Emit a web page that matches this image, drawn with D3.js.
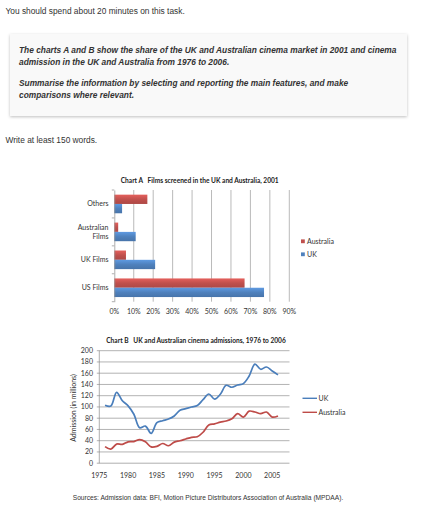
<!DOCTYPE html>
<html><head><meta charset="utf-8">
<script src="https://cdn.jsdelivr.net/npm/d3@7"></script>
<style>
html,body{margin:0;padding:0;background:#fff;}
svg{display:block;}
</style></head>
<body>
<svg id="c" width="421" height="512"></svg>
<script>
// ---------- Data ----------
const filmCategories = ["Others", "Australian Films", "UK Films", "US Films"];
const seriesA = ["Australia", "UK"];
const australiaShare = [17, 2, 6, 67];
const ukShare = [4, 11, 21, 77];
const shareTicks = [0, 10, 20, 30, 40, 50, 60, 70, 80, 90];

const years = [1976,1977,1978,1979,1980,1981,1982,1983,1984,1985,1986,1987,1988,1989,1990,1991,1992,1993,1994,1995,1996,1997,1998,1999,2000,2001,2002,2003,2004,2005,2006];
const ukAdmissions = [103,101.5,126,111,102,87,63,66,53,72,75.5,78.5,84,94,97,100,102.5,113,123,114,122.5,138.5,135,139,141.5,155,176,167,171,164,157];
const ausAdmissions = [29.5,25,34,33.5,38,38.5,42,38,29,30,35,31,37.5,40,43,46,47,55,68,70,73,75,79,88,82,92.5,91,88,91,82,84];
const admissionTicks = [0,20,40,60,80,100,120,140,160,180,200];
const yearTicks = [1975,1980,1985,1990,1995,2000,2005];

const colAus = "#c0504d", colUK = "#4f81bd";
const svg = d3.select("#c");
const sans = "'Liberation Sans', Arial, Helvetica, sans-serif";
const cf = "Lato, 'Open Sans', sans-serif";
const hs = 8.35;   // header font size
const ts = 7;      // chart text size

// ---------- Header ----------
const defs = svg.append("defs");
const f = defs.append("filter").attr("id","sh").attr("x","-5%").attr("y","-10%").attr("width","110%").attr("height","130%");
f.append("feDropShadow").attr("dx",0).attr("dy",1).attr("stdDeviation",1.5).attr("flood-color","#000").attr("flood-opacity",0.25);

svg.append("text").attr("x",5.5).attr("y",14).attr("font-family",sans).attr("font-size",hs).attr("fill","#333")
  .text("You should spend about 20 minutes on this task.");
svg.append("rect").attr("x",10).attr("y",34).attr("width",397).attr("height",82).attr("fill","#f9f9f9").attr("filter","url(#sh)");
const boxLines = [
  ["The charts A and B show the share of the UK and Australian cinema market in 2001 and cinema", 53],
  ["admission in the UK and Australia from 1976 to 2006.", 65.3],
  ["Summarise the information by selecting and reporting the main features, and make", 85.7],
  ["comparisons where relevant.", 98]
];
svg.selectAll("text.box").data(boxLines).join("text").attr("class","box")
  .attr("x",19).attr("y",d=>d[1]).attr("font-family",sans).attr("font-size",hs)
  .attr("font-weight","bold").attr("font-style","italic").attr("fill","#333").text(d=>d[0]);
svg.append("text").attr("x",5.5).attr("y",143).attr("font-family",sans).attr("font-size",hs).attr("fill","#333")
  .text("Write at least 150 words.");

// ---------- Chart A ----------
const xA = d3.scaleLinear().domain([0,90]).range([114.3,289.3]);
const yA = d3.scaleBand().domain(filmCategories).range([190,301.7]).paddingInner(0).paddingOuter(0);
const ySub = d3.scaleBand().domain(seriesA).range([0,yA.bandwidth()]).paddingInner(0).paddingOuter(0.5);
const gA = svg.append("g");
gA.append("text").attr("x",199.7).attr("y",183).attr("text-anchor","middle").attr("font-family",cf)
  .attr("font-size",6.6).attr("font-weight","bold").attr("fill","#222")
  .attr("xml:space","preserve").text("Chart A   Films screened in the UK and Australia, 2001");
// gridlines
gA.selectAll("line.g").data(shareTicks.slice(1)).join("line").attr("x1",d=>xA(d)).attr("x2",d=>xA(d))
  .attr("y1",190).attr("y2",301.7).attr("stroke","#8c8c8c").attr("stroke-width",0.6);
// gradients
function grad(id,c){
  const g = defs.append("linearGradient").attr("id",id).attr("x1",0).attr("y1",0).attr("x2",0).attr("y2",1);
  g.append("stop").attr("offset","0%").attr("stop-color",d3.color(c).brighter(0.5));
  g.append("stop").attr("offset","50%").attr("stop-color",c);
  g.append("stop").attr("offset","100%").attr("stop-color",d3.color(c).darker(0.3));
}
grad("gAus",colAus); grad("gUK",colUK);
const rowsA = filmCategories.map((c,i)=>({cat:c, vals:[{s:"Australia",v:australiaShare[i]},{s:"UK",v:ukShare[i]}]}));
gA.selectAll("g.row").data(rowsA).join("g").attr("class","row").attr("transform",d=>`translate(0,${yA(d.cat)})`)
  .selectAll("rect").data(d=>d.vals).join("rect")
  .attr("x",xA(0)).attr("y",d=>ySub(d.s)).attr("height",ySub.bandwidth())
  .attr("width",d=>xA(d.v)-xA(0)).attr("fill",d=>d.s==="Australia"?"url(#gAus)":"url(#gUK)");
// y axis
const axA = gA.append("g").attr("transform",`translate(${xA(0)},0)`)
  .call(d3.axisLeft(yA).tickSize(0).tickFormat(""));
axA.select(".domain").attr("stroke","#8c8c8c").attr("stroke-width",0.7);
const bandEdges = filmCategories.map(c=>yA(c)).concat([yA.range()[1]]);
gA.selectAll("line.t").data(bandEdges).join("line").attr("x1",xA(0)-2.5).attr("x2",xA(0))
  .attr("y1",d=>d).attr("y2",d=>d).attr("stroke","#8c8c8c").attr("stroke-width",0.7);
const labelLines = {"Others":["Others"],"Australian Films":["Australian","Films"],"UK Films":["UK Films"],"US Films":["US Films"]};
filmCategories.forEach(c=>{
  const ls = labelLines[c]; const cy = yA(c)+yA.bandwidth()/2;
  ls.forEach((t,i)=>{
    gA.append("text").attr("x",108.5).attr("y",cy+2.4+(i-(ls.length-1)/2)*8.5).attr("text-anchor","end")
      .attr("font-family",cf).attr("font-size",ts).attr("fill","#333").text(t);
  });
});
// x tick labels
gA.selectAll("text.xt").data(shareTicks).join("text").attr("class","xt").attr("x",d=>xA(d)).attr("y",314)
  .attr("text-anchor","middle").attr("font-family",cf).attr("font-size",ts).attr("fill","#333").text(d=>d+"%");
// legend A
[["Australia",colAus,241.3],["UK",colUK,254.3]].forEach(([n,c,y])=>{
  gA.append("rect").attr("x",301).attr("y",y-1.9).attr("width",3.8).attr("height",3.8).attr("fill",c);
  gA.append("text").attr("x",307).attr("y",y+2.4).attr("font-family",cf).attr("font-size",ts).attr("fill","#333").text(n);
});

// ---------- Chart B ----------
const xB = d3.scaleLinear().domain([1975,2008]).range([99.3,289.5]);
const yB = d3.scaleLinear().domain([0,200]).range([463.2,350.7]);
const gB = svg.append("g");
gB.append("text").attr("x",196).attr("y",343).attr("text-anchor","middle").attr("font-family",cf)
  .attr("font-size",6.6).attr("font-weight","bold").attr("fill","#222")
  .attr("xml:space","preserve").text("Chart B   UK and Australian cinema admissions, 1976 to 2006");
gB.selectAll("line.g").data(admissionTicks).join("line").attr("x1",xB(1975)-2.5).attr("x2",xB(2008))
  .attr("y1",d=>yB(d)).attr("y2",d=>yB(d)).attr("stroke",d=>d===0?"#8c8c8c":"#b3b3b3").attr("stroke-width",d=>d===0?0.7:1);
gB.append("line").attr("x1",xB(1975)).attr("x2",xB(1975)).attr("y1",yB(200)).attr("y2",yB(0)).attr("stroke","#8c8c8c").attr("stroke-width",0.7);
gB.selectAll("text.yt").data(admissionTicks).join("text").attr("class","yt").attr("x",93).attr("y",d=>yB(d)+2.4)
  .attr("text-anchor","end").attr("font-family",cf).attr("font-size",ts).attr("fill","#333").text(d=>d);
gB.selectAll("text.xt").data(yearTicks).join("text").attr("class","xt").attr("x",d=>xB(d)).attr("y",477.5)
  .attr("text-anchor","middle").attr("font-family",cf).attr("font-size",ts).attr("fill","#333").text(d=>d);
gB.append("text").attr("transform","translate(76,408) rotate(-90)").attr("text-anchor","middle")
  .attr("font-family",cf).attr("font-size",ts).attr("fill","#333").text("Admission (in millions)");
const line = d3.line().x(d=>xB(d[0])).y(d=>yB(d[1])).curve(d3.curveCatmullRom.alpha(0.5));
gB.append("path").datum(years.map((y,i)=>[y,ukAdmissions[i]])).attr("d",line).attr("fill","none")
  .attr("stroke","#4a7ebb").attr("stroke-width",1.7);
gB.append("path").datum(years.map((y,i)=>[y,ausAdmissions[i]])).attr("d",line).attr("fill","none")
  .attr("stroke","#be4b48").attr("stroke-width",1.7);
// legend B
[["UK","#4a7ebb",398.3],["Australia","#be4b48",412.3]].forEach(([n,c,y])=>{
  gB.append("line").attr("x1",302.5).attr("x2",317).attr("y1",y).attr("y2",y).attr("stroke",c).attr("stroke-width",1.4);
  gB.append("text").attr("x",318.5).attr("y",y+2.4).attr("font-family",cf).attr("font-size",ts).attr("fill","#333").text(n);
});

// ---------- Source ----------
svg.append("text").attr("x",208).attr("y",500).attr("text-anchor","middle").attr("font-family",sans)
  .attr("font-size",6.65).attr("fill","#333")
  .text("Sources: Admission data: BFI, Motion Picture Distributors Association of Australia (MPDAA).");
</script>
</body></html>
